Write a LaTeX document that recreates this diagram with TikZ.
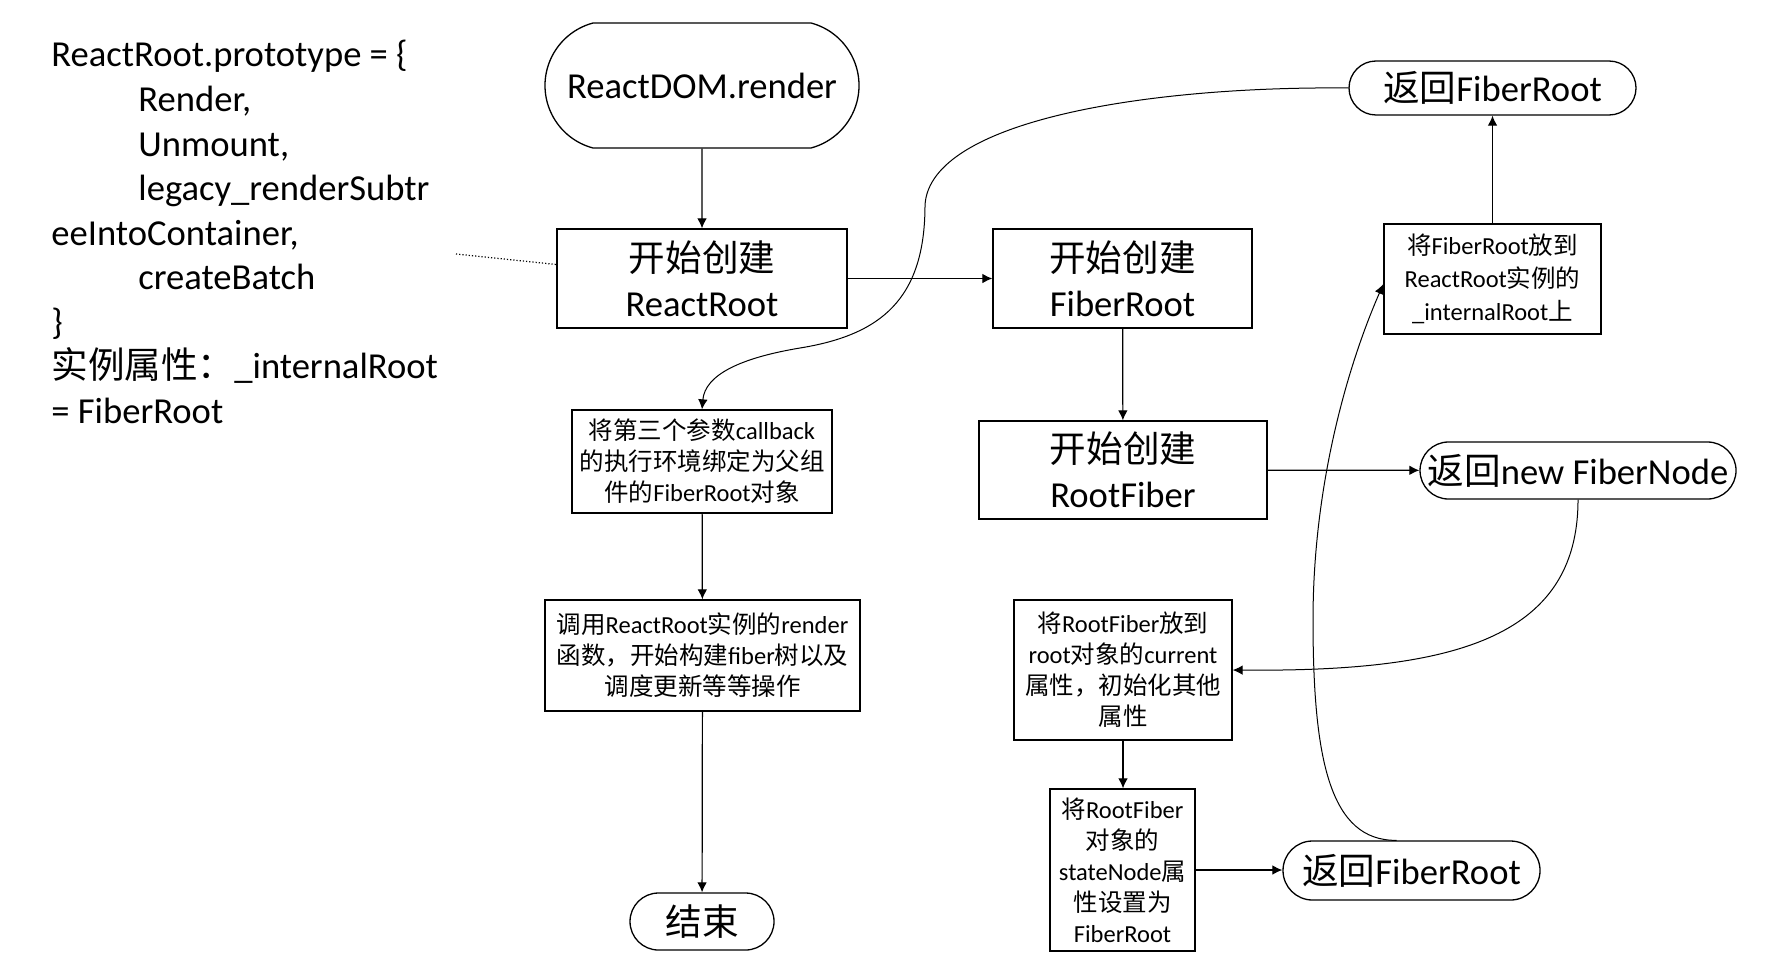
\documentclass[tikz,border=0pt]{standalone}
\usepackage{fontspec}
\setmainfont{Carlito}
\newfontfamily\cjk{Noto Sans CJK SC}
\usetikzlibrary{arrows.meta,calc,shapes.misc}
\newcommand\zh[1]{{\cjk #1}}
\begin{document}
\begin{tikzpicture}[x=0.5pt,y=-0.5pt,
  box/.style={draw, line width=0.65pt, inner sep=0pt, align=center},
  big/.style={font=\fontsize{18.3}{22.5}\selectfont},
  small/.style={font=\fontsize{12.25}{15.5}\selectfont},
  term/.style={box, rounded rectangle},
  arr/.style={-{Latex[length=5pt,width=4.8pt]}, line width=0.6pt},
  code/.style={anchor=base west, inner sep=0pt, font=\fontsize{18.3}{22}\selectfont}
]
\useasboundingbox (0,0) rectangle (1780,974);

% left code text
\node[code] (l1) at (51,67) {ReactRoot.prototype = \{};
\node[code] (l2) at (138,111.5) {Render,};
\node[code] (l3) at (138,156) {Unmount,};
\node[code] (l4) at (138,200.5) {legacy\_renderSubtr};
\node[code] (l5) at (51,245) {eeIntoContainer,};
\node[code] (l6) at (138,289.5) {createBatch};
\node[code] (l7) at (51,334) {\}};
\node[code] (l8) at (51,378.5) {\zh{实例属性：}\_internalRoot};
\node[code] (l9) at (51,423) {= FiberRoot};

% main column
\node[term, big, rounded rectangle arc length=150, minimum width=157pt, minimum height=62.5pt] (rd) at (702,85.5) {ReactDOM.render};
\node[box, big, minimum width=145pt, minimum height=49.5pt] (rr) at (702,278.5) {\zh{开始创建}\\ReactRoot};
\node[box, small, minimum width=130pt, minimum height=51.5pt] (cb) at (702,461.5) {\zh{将第三个参数}callback\\\zh{的执行环境绑定为父组}\\\zh{件的}FiberRoot\zh{对象}};
\node[box, small, minimum width=157.5pt, minimum height=55.5pt] (cl) at (702.5,655.5) {\zh{调用}ReactRoot\zh{实例的}render\\\zh{函数，开始构建}fiber\zh{树以及}\\\zh{调度更新等等操作}};
\node[term, big, minimum width=72pt, minimum height=28.5pt] (fin) at (702,921.5) {\zh{结束}};

% middle column
\node[box, big, minimum width=129.5pt, minimum height=49.5pt] (fr) at (1122.5,278.5) {\zh{开始创建}\\FiberRoot};
\node[box, big, minimum width=144pt, minimum height=49pt] (rf) at (1123,470) {\zh{开始创建}\\RootFiber};
\node[box, small, minimum width=109pt, minimum height=70pt] (rf2) at (1123,670) {\zh{将}RootFiber\zh{放到}\\root\zh{对象的}current\\\zh{属性，初始化其他}\\\zh{属性}};
\node[box, small, minimum width=72.5pt, minimum height=81pt] (sn) at (1122.5,870) {\zh{将}RootFiber\\\zh{对象的}\\stateNode\zh{属}\\\zh{性设置为}\\FiberRoot};

% right column
\node[term, big, minimum width=143.5pt, minimum height=27pt] (rt) at (1492.5,88) {\zh{返回}FiberRoot};
\node[box, small, font=\fontsize{12.25}{16.5}\selectfont, minimum width=108.5pt, minimum height=55pt] (fr2) at (1492.5,279) {\zh{将}FiberRoot\zh{放到}\\ReactRoot\zh{实例的}\\\_internalRoot\zh{上}};
\node[term, big, minimum width=158pt, minimum height=28.5pt] (nf) at (1578,470.5) {\zh{返回}new FiberNode};
\node[term, big, minimum width=128.5pt, minimum height=29.5pt] (rb) at (1411.5,870.5) {\zh{返回}FiberRoot};

% dotted link
\coordinate (d1) at (456,254);
\draw[densely dotted, line width=0.6pt] (d1) -- ($(rr.west)+(0,-14)$);

% connectors
\draw[arr] (rd) -- (rr);
\draw[arr] (rr) -- (fr);
\draw[arr] (fr) -- (rf);
\draw[arr] (rf) -- (nf);
\draw[arr] (cb) -- (cl);
\draw[arr] (cl) -- (fin);
\draw[arr] (rf2.south) -- (rf2.south |- sn.north);
\draw[arr] (sn.east) -- (sn.east -| rb.west);
\draw[arr] (fr2.north) -- (fr2.north |- rt.south);

\draw[arr, line width=0.5pt] (rt.west) .. controls (1150,86) and (930,120) .. (925,205)
  .. controls (925,300) and (880,335) .. (800,348)
  .. controls (740,358) and (705,375) .. (cb.north);
\draw[arr, line width=0.5pt] (nf.south) .. controls (1578,640) and (1450,672) .. (rf2.east);
\draw[arr, line width=0.5pt] ($(rb.north)+(-15,0)$) .. controls (1330,841) and (1313,760) .. (1313,620)
  .. controls (1313,480) and (1350,360) .. ($(fr2.west)+(0,5)$);
\end{tikzpicture}
\end{document}
